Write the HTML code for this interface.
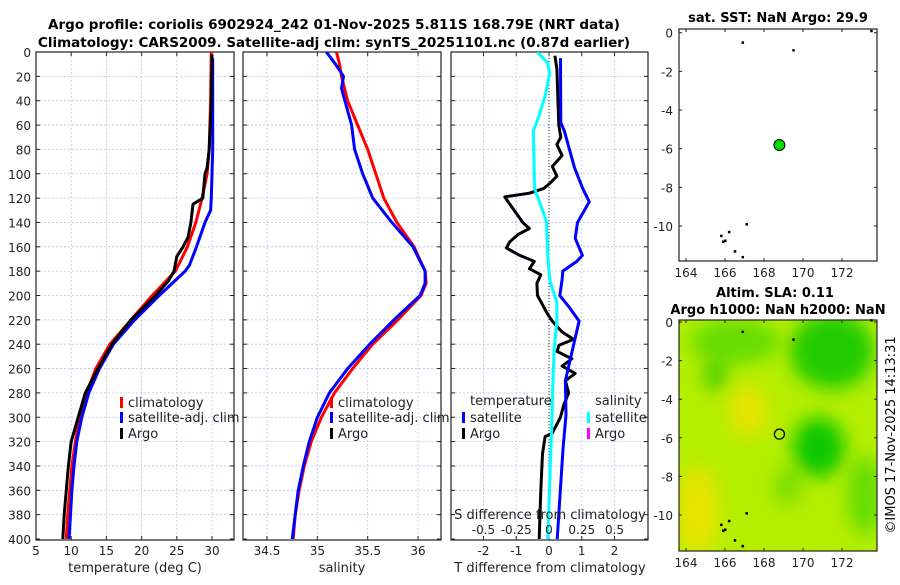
<!DOCTYPE html>
<html><head><meta charset="utf-8">
<style>
body{margin:0;background:#fff;width:900px;height:580px;overflow:hidden}
svg{font-family:"DejaVu Sans","Liberation Sans",sans-serif}
</style></head>
<body>
<svg id="chart" width="900" height="580" viewBox="0 0 900 580" xmlns="http://www.w3.org/2000/svg">
<defs>
<filter id="blur" x="-50%" y="-50%" width="200%" height="200%"><feGaussianBlur stdDeviation="9"/></filter>
<clipPath id="c1"><rect x="36" y="52" width="198" height="488"/></clipPath>
<clipPath id="c2"><rect x="243" y="52" width="198" height="488"/></clipPath>
<clipPath id="c3"><rect x="451" y="52" width="197" height="488"/></clipPath>
<clipPath id="cm2"><rect x="679" y="320" width="198" height="231"/></clipPath>
</defs>
<text x="334" y="29" text-anchor="middle" font-size="13.5" font-weight="bold">Argo profile: coriolis 6902924_242 01-Nov-2025 5.811S 168.79E (NRT data)</text>
<text x="334" y="47" text-anchor="middle" font-size="13.5" font-weight="bold">Climatology: CARS2009. Satellite-adj clim: synTS_20251101.nc (0.87d earlier)</text>
<g id="g"></g>
<text x="778" y="22" text-anchor="middle" font-size="13" font-weight="bold">sat. SST: NaN Argo: 29.9</text>
<text x="775" y="297" text-anchor="middle" font-size="13" font-weight="bold">Altim. SLA: 0.11</text>
<text x="778" y="314" text-anchor="middle" font-size="13" font-weight="bold">Argo h1000: NaN h2000: NaN</text>
<text transform="translate(895,435) rotate(-90)" text-anchor="middle" font-size="13">©IMOS 17-Nov-2025 14:13:31</text>
</svg>
<script>
// ---- data ----
const depthTicks=[0,20,40,60,80,100,120,140,160,180,200,220,240,260,280,300,320,340,360,380,400];
const tempTicks=[5,10,15,20,25,30];
const salTicks=[34.5,35,35.5,36];
const diffTTicks=[-2,-1,0,1,2];
const diffSTicks=[-0.5,-0.25,0,0.25,0.5];
const lonTicks=[164,166,168,170,172];
const latTicks=[0,-2,-4,-6,-8,-10];

const climTDepth=[0,40,80,100,120,140,160,180,200,220,240,260,280,300,320,340,360,380,400];
const climTVal=[29.9,29.8,29.6,29.3,28.6,27.7,26.5,24.8,21.5,18.5,15.5,13.5,12.2,11.2,10.6,10.1,9.8,9.5,9.3];
const satTDepth=[5,40,80,100,120,130,140,160,175,180,200,220,240,260,280,300,320,340,360,380,400];
const satTVal=[30.1,30.1,30.1,30.0,29.9,29.8,29.0,27.8,26.8,26.2,22.5,19.0,16.0,14.0,12.5,11.5,10.8,10.4,10.1,9.9,9.7];
const argoTDepth=[2,40,80,95,100,120,125,140,152,160,168,180,188,200,220,240,260,280,300,320,340,360,380,400];
const argoTVal=[30.0,29.9,29.6,29.3,29.0,28.7,27.3,27.0,26.6,25.9,25.0,24.6,23.8,22.0,18.5,15.8,13.8,12.0,11.0,10.0,9.6,9.3,9.0,8.8];

const climSDepth=[0,10,20,40,60,80,100,120,140,160,180,190,200,220,240,260,280,300,320,340,360,380,400];
const climSVal=[35.19,35.22,35.24,35.30,35.40,35.50,35.58,35.66,35.79,35.96,36.07,36.08,36.03,35.80,35.55,35.35,35.17,35.04,34.94,34.87,34.82,34.78,34.76];
const satSDepth=[0,10,20,30,60,80,100,120,140,160,180,190,200,220,240,260,280,300,320,340,360,380,400];
const satSVal=[35.09,35.18,35.26,35.24,35.34,35.37,35.45,35.55,35.74,35.95,36.07,36.07,36.02,35.76,35.52,35.30,35.12,35.00,34.92,34.86,34.81,34.78,34.75];

const dArgoTDepth=[3,14,60,70,76,85,94,102,108,112,116,119,123,140,145,150,156,161,167,172,178,183,190,200,215,221,230,236,241,246,252,258,264,270,280,290,300,313,316,330,360,400];
const dArgoTVal=[0.18,0.24,0.3,0.36,0.24,0.4,0.1,0.24,0.02,-0.16,-0.6,-1.35,-1.25,-0.8,-0.6,-0.95,-1.2,-1.3,-0.9,-0.45,-0.6,-0.25,-0.37,-0.35,-0.05,0.1,0.4,0.75,0.3,0.25,0.7,0.4,0.8,0.5,0.6,0.45,0.35,0.1,-0.12,-0.2,-0.25,-0.3];
const dSatTDepth=[5,58,65,95,112,123,140,153,167,172,180,187,200,210,221,243,270,298,325,400];
const dSatTVal=[0.35,0.36,0.47,0.78,1.03,1.23,0.87,0.8,1.02,0.85,0.42,0.4,0.33,0.63,0.92,0.73,0.5,0.52,0.43,0.25];
const dSatSDepth=[0,9,18,36,55,65,112,139,166,187,206,221,243,270,311,400];
const dSatSVal=[-0.09,-0.01,0.005,-0.03,-0.085,-0.12,-0.11,-0.02,-0.01,0.005,0.06,0.06,0.04,0.03,0.02,-0.01];

const argoLon=168.79, argoLat=-5.811;
const islandLon=[166.9,169.5,173.5,167.1,166.2,165.8,165.9,166.0,166.5,166.9];
const islandLat=[-0.5,-0.9,0.1,-9.9,-10.3,-10.5,-10.8,-10.75,-11.3,-11.6];

// ---- layout ----
const NS="http://www.w3.org/2000/svg";
const G=document.getElementById('g');
function el(t,a,p){const e=document.createElementNS(NS,t);for(const k in a)e.setAttribute(k,a[k]);(p||G).appendChild(e);return e;}
const Y0=52,Y1=540;
const yD=d=>52+d*1.2175;
const xT=v=>36+(v-5)*7.04;
const xS=v=>267+(v-34.5)*100.7;
const xDT=v=>549+v*32.75;
const xDS=v=>549+v*131;
const mX1=lo=>686+(lo-164)*19.5, mY1=la=>32.7-la*19.33;
const mX2=lo=>686+(lo-164)*19.5, mY2=la=>322-la*19.3;

function panel(x0,x1,xs,xticks,fmt,name){
  const g=el('g',{});
  
  
  depthTicks.forEach(d=>{const y=yD(d);if(y<Y1-1&&y>Y0+1)el('line',{x1:x0,x2:x1,y1:y,y2:y,stroke:'#b8c4ec','stroke-width':0.8,'stroke-dasharray':'2,2'},g);
    el('line',{x1:x0,x2:x0+4,y1:y,y2:y,stroke:'#222'},g);el('line',{x1:x1-4,x2:x1,y1:y,y2:y,stroke:'#222'},g);});
  xticks.forEach(v=>{const x=xs(v);el('line',{x1:x,x2:x,y1:Y0,y2:Y1,stroke:'#b8c4ec','stroke-width':0.8,'stroke-dasharray':'2,2'},g);
    el('line',{x1:x,x2:x,y1:Y1,y2:Y1-4,stroke:'#222'},g);el('line',{x1:x,x2:x,y1:Y0,y2:Y0+4,stroke:'#222'},g);
    if(fmt){const t=el('text',{x:x,y:555,'text-anchor':'middle','font-size':12,fill:'#222'},g);t.textContent=fmt(v);}});
  el('rect',{x:x0,y:Y0,width:x1-x0,height:Y1-Y0,fill:'none',stroke:'#222','stroke-width':1.2},g);
  return g;
}
function line(ds,vs,xs,col,clip,name,w){
  const p=el('polyline',{points:ds.map((d,i)=>xs(vs[i]).toFixed(1)+','+yD(d).toFixed(1)).join(' '),fill:'none',stroke:col,'stroke-width':w||3,'stroke-linejoin':'round','clip-path':'url(#'+clip+')'});
  
  
}
function txt(x,y,s,opt,name){const t=el('text',Object.assign({x:x,y:y,'font-size':13,fill:'#222'},opt||{}));t.textContent=s;return t;}
function legEntry(x,y,col,s,name){const r=el('rect',{x:x,y:y-10,width:3,height:11,fill:col});txt(x+8,y,s,{},name);}

depthTicks.forEach(d=>txt(31,yD(d)+5,String(d),{'text-anchor':'end','font-size':12},'depth-tick-label'));

// panel 1
panel(36,234,xT,tempTicks,v=>String(v),'temperature-panel');
line(climTDepth,climTVal,xT,'#f00','c1','climatology-temp-line');
line(satTDepth,satTVal,xT,'#00f','c1','satellite-temp-line');
line(argoTDepth,argoTVal,xT,'#000','c1','argo-temp-line');
txt(135,572,'temperature (deg C)',{'text-anchor':'middle'},'x-axis-title-temperature');
legEntry(120,407,'#f00','climatology','legend-climatology');
legEntry(120,422,'#00f','satellite-adj. clim','legend-satellite-adj');
legEntry(120,438,'#000','Argo','legend-argo');

// panel 2
panel(243,441,xS,salTicks,v=>String(v),'salinity-panel');
line(climSDepth,climSVal,xS,'#f00','c2','climatology-sal-line');
line(satSDepth,satSVal,xS,'#00f','c2','satellite-sal-line');
txt(342,572,'salinity',{'text-anchor':'middle'},'x-axis-title-salinity');
legEntry(330,407,'#f00','climatology','legend-climatology-2');
legEntry(330,422,'#00f','satellite-adj. clim','legend-satellite-adj-2');
legEntry(330,438,'#000','Argo','legend-argo-2');

// panel 3
panel(451,648,xDT,diffTTicks,v=>String(v),'difference-panel');
el('line',{x1:549,x2:549,y1:Y0,y2:Y1,stroke:'#333','stroke-width':1,'stroke-dasharray':'1,2'});
line(dArgoTDepth,dArgoTVal,xDT,'#000','c3','argo-temp-diff-line');
line(dSatTDepth,dSatTVal,xDT,'#00f','c3','satellite-temp-diff-line');
line(dSatSDepth,dSatSVal,xDS,'#0ff','c3','satellite-sal-diff-line');
diffSTicks.forEach(v=>txt(xDS(v),534,String(v),{'text-anchor':'middle','font-size':12},'s-diff-tick-label'));
txt(550,519,'S difference from climatology',{'text-anchor':'middle'},'s-diff-axis-title');
txt(550,572,'T difference from climatology',{'text-anchor':'middle'},'x-axis-title-t-diff');
txt(470,405,'temperature',{},'legend-temperature-header');
txt(595,405,'salinity',{},'legend-salinity-header');
legEntry(462,422,'#00f','satellite','legend-t-satellite');
legEntry(462,438,'#000','Argo','legend-t-argo');
legEntry(587,422,'#0ff','satellite','legend-s-satellite');
legEntry(587,438,'#f0f','Argo','legend-s-argo');

function mapAxes(x0,y0,x1,y1,mx,my,name){
  const g=el('g',{});
  
  
  el('rect',{x:x0,y:y0,width:x1-x0,height:y1-y0,fill:'none',stroke:'#222','stroke-width':1.2},g);
  lonTicks.forEach(v=>{const x=mx(v);el('line',{x1:x,x2:x,y1:y1,y2:y1-3,stroke:'#222'},g);el('line',{x1:x,x2:x,y1:y0,y2:y0+3,stroke:'#222'},g);
    const t=el('text',{x:x,y:y1+16,'text-anchor':'middle','font-size':12,fill:'#222'},g);t.textContent=String(v);});
  latTicks.forEach(v=>{const y=my(v);el('line',{x1:x0,x2:x0+3,y1:y,y2:y,stroke:'#222'},g);el('line',{x1:x1-3,x2:x1,y1:y,y2:y,stroke:'#222'},g);
    const t=el('text',{x:x0-6,y:y+5,'text-anchor':'end','font-size':12,fill:'#222'},g);t.textContent=String(v);});
}
el('rect',{x:679,y:29,width:198,height:232,fill:'#fff'});
islandLon.forEach((lo,i)=>{const c=el('rect',{x:mX1(lo)-1,y:mY1(islandLat[i])-1,width:2.5,height:2.5,fill:'#000'});});
{const c=el('circle',{cx:mX1(argoLon),cy:mY1(argoLat),r:5.5,fill:'#00dd00',stroke:'#000','stroke-width':1});}
mapAxes(679,29,877,261,mX1,mY1,'sst-map');

const mg=el('g',{'clip-path':'url(#cm2)'});


el('rect',{x:679,y:320,width:198,height:231,fill:'#b4ee00'},mg);
const bg=el('g',{filter:'url(#blur)'},mg);
el('ellipse',{cx:mX2(171.5),cy:mY2(-1.5),rx:42,ry:38,fill:'#22cc00'},bg);
el('ellipse',{cx:mX2(170.8),cy:mY2(-6.5),rx:26,ry:30,fill:'#11c800'},bg);
el('ellipse',{cx:mX2(166.5),cy:mY2(-1),rx:45,ry:22,fill:'#66dd00'},bg);
el('ellipse',{cx:mX2(165.5),cy:mY2(-2.8),rx:12,ry:14,fill:'#44cc00'},bg);
el('ellipse',{cx:mX2(167.2),cy:mY2(-4.6),rx:20,ry:26,fill:'#e6e400'},bg);
el('ellipse',{cx:mX2(164.6),cy:mY2(-9.8),rx:22,ry:45,fill:'#e6e400'},bg);
el('ellipse',{cx:mX2(169.2),cy:mY2(-8.5),rx:14,ry:18,fill:'#77dd00'},bg);
el('ellipse',{cx:mX2(173.2),cy:mY2(-9),rx:18,ry:40,fill:'#66dd00'},bg);
islandLon.forEach((lo,i)=>{const c=el('rect',{x:mX2(lo)-1,y:mY2(islandLat[i])-1,width:2.5,height:2.5,fill:'#000'});});
{const c=el('circle',{cx:mX2(argoLon),cy:mY2(argoLat),r:5,fill:'none',stroke:'#000','stroke-width':1.3});}
mapAxes(679,320,877,551,mX2,mY2,'sla-map');
</script>
</body></html>
